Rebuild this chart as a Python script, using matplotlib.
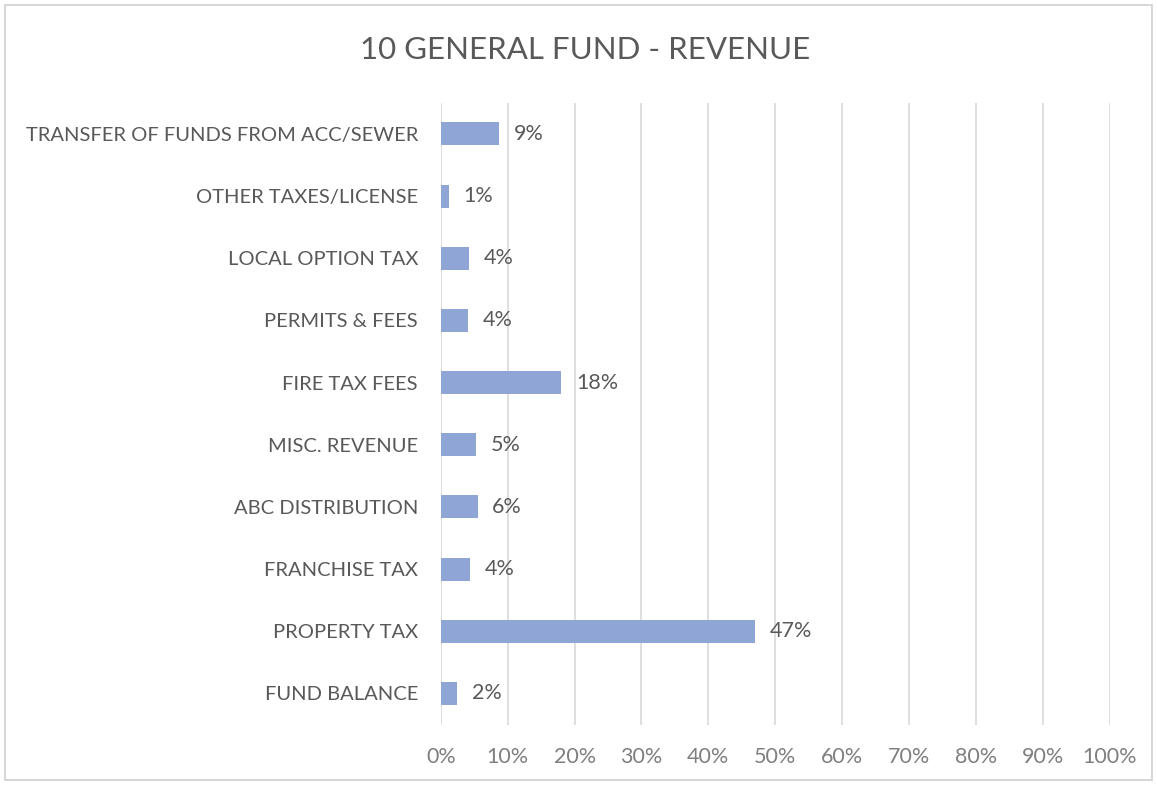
import matplotlib.pyplot as plt
from matplotlib.ticker import PercentFormatter
from matplotlib.patches import Rectangle

categories = [
    "FUND BALANCE",
    "PROPERTY TAX",
    "FRANCHISE TAX",
    "ABC DISTRIBUTION",
    "MISC. REVENUE",
    "FIRE TAX FEES",
    "PERMITS & FEES",
    "LOCAL OPTION TAX",
    "OTHER TAXES/LICENSE",
    "TRANSFER OF FUNDS FROM ACC/SEWER",
]
shares = [2.4, 47.0, 4.3, 5.5, 5.2, 18.0, 4.0, 4.2, 1.2, 8.7]
x_ticks = [0, 10, 20, 30, 40, 50, 60, 70, 80, 90, 100]
title = "10 GENERAL FUND - REVENUE"

plt.rcParams["font.family"] = ["Lato", "DejaVu Sans"]
text_color = "#595959"
tick_color = "#7F7F7F"
bar_color = "#8FA5D6"
grid_color = "#D9D9D9"

fig = plt.figure(figsize=(11.57, 7.85), dpi=100)
fig.patch.set_facecolor("white")
fig.patches.append(Rectangle((0.004, 0.006), 0.992, 0.988, transform=fig.transFigure,
                             fill=False, edgecolor="#D0D0D0", linewidth=1.2))

ax = fig.add_axes([0.381, 0.077, 0.578, 0.792])
y = range(len(categories))
bars = ax.barh(y, shares, height=0.37, color=bar_color, zorder=3)

for bar, v in zip(bars, shares):
    ax.text(bar.get_width() + 2.2, bar.get_y() + bar.get_height() / 2,
            f"{v:.0f}%", va="center", ha="left", fontsize=15.5, color=text_color)

ax.set_xlim(0, 100)
ax.set_ylim(-0.5, len(categories) - 0.5)
ax.set_xticks(x_ticks)
ax.xaxis.set_major_formatter(PercentFormatter(decimals=0))
ax.set_yticks(list(y))
ax.set_yticklabels(categories, fontsize=14.5)
ax.tick_params(axis="both", length=0)
ax.tick_params(axis="x", pad=16, labelsize=15.5, colors=tick_color)
ax.tick_params(axis="y", pad=16.5, colors=text_color)
ax.grid(axis="x", color=grid_color, linewidth=1.2, zorder=0)
for s in ax.spines.values():
    s.set_visible(False)

fig.text(0.506, 0.936, title, ha="center", va="center", fontsize=22.5, color=text_color)

fig.savefig("out.png", dpi=100, facecolor="white")
